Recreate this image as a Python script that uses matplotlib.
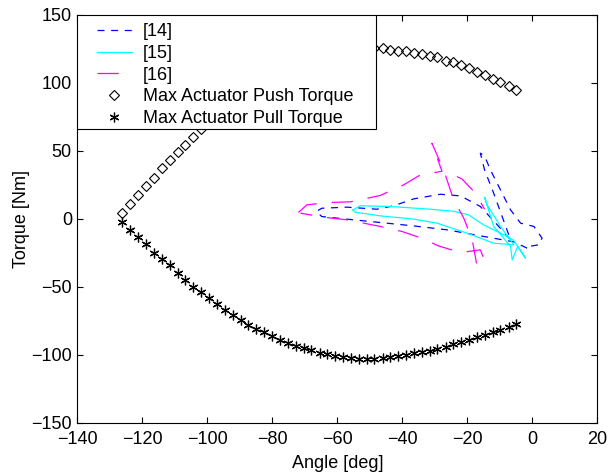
import numpy as np
from matplotlib import pyplot as plt
from matplotlib.patches import Rectangle

plt.rcParams['font.family'] = ['Liberation Sans', 'DejaVu Sans']

# actuator limit curves (same angle grid for push and pull)
angle_act = [-126.2, -123.8, -121.3, -118.9, -116.5, -114.1, -111.6, -109.2, -106.8, -104.4,
             -101.9, -99.5, -97.1, -94.7, -92.2, -89.8, -87.4, -84.9, -82.5, -80.1,
             -77.7, -75.3, -72.8, -70.4, -68.0, -65.5, -63.1, -60.7, -58.3, -55.8,
             -53.4, -51.0, -48.6, -46.1, -43.7, -41.3, -38.9, -36.4, -34.0, -31.6,
             -29.2, -26.7, -24.3, -21.9, -19.5, -17.0, -14.6, -12.2, -9.8, -7.3, -4.9]
push_torque = [4.6, 11.0, 17.9, 24.3, 30.1, 37.5, 43.2, 49.3, 54.4, 60.5,
               66.0, 71.5, 77.0, 82.5, 88.0, 93.0, 98.0, 103.0, 107.5, 111.5,
               115.0, 118.0, 120.5, 122.5, 124.0, 125.2, 126.0, 126.5, 126.8, 126.8,
               126.6, 126.3, 125.9, 125.5, 124.3, 123.8, 123.5, 122.3, 121.1, 120.1,
               118.9, 116.4, 115.2, 113.2, 111.3, 108.3, 105.9, 102.9, 100.5, 98.0, 94.9]
pull_torque = [-2.5, -8.1, -13.0, -18.4, -24.8, -29.2, -34.3, -39.5, -44.9, -49.8,
               -53.9, -58.3, -62.5, -66.9, -70.6, -74.3, -77.9, -81.1, -83.6, -86.3,
               -89.0, -91.4, -93.4, -95.1, -96.8, -98.5, -99.3, -100.7, -101.7, -102.4,
               -102.9, -102.9, -102.9, -102.7, -101.7, -101.0, -100.0, -99.0, -98.3, -97.5,
               -95.8, -94.1, -92.4, -90.9, -89.0, -87.0, -85.3, -83.6, -81.6, -79.4, -77.2]

# gait torque trajectories from the literature
ang14 = [-1.6, -5.7, -16.0, -26.2, -36.5, -46.8, -57.1, -64.8, -66.5, -64.8,
         -57.1, -47.8, -42.7, -36.5, -28.3, -22.1, -16.0, -10.8, -6.7, -11.9,
         -14.7, -16.0, -14.7, -12.9, -9.8, -6.7, -3.6, 0.5, 3.0, 2.0, -1.1, -1.6]
trq14 = [-21.6, -16.9, -12.5, -8.1, -5.2, -2.7, -0.2, 1.7, 5.4, 7.8,
         8.6, 7.1, 9.6, 14.7, 18.1, 16.9, 9.1, -4.4, -15.4, 18.9,
         36.0, 48.3, 46.3, 36.0, 21.3, 6.6, -3.2, -5.6, -14.2, -19.1, -20.3, -21.6]

ang15 = [-55.2, -53.0, -43.7, -31.4, -24.2, -19.6, -15.0, -9.8, -5.7, -2.1,
         -4.5, -6.2, -6.7, -11.9, -14.7, -13.9, -9.8, -5.7, -11.9, -20.1,
         -29.3, -36.5, -46.8, -54.5, -55.2]
trq15 = [6.6, 9.6, 9.1, 7.1, 5.6, 2.9, -4.4, -10.5, -15.9, -28.9,
         -20.3, -30.2, -20.3, -5.6, 15.9, 10.3, -5.6, -19.1, -17.9, -10.5,
         -3.2, -0.2, 2.2, 4.9, 6.6]

ang16 = [-72.0, -69.4, -63.2, -56.0, -46.8, -39.6, -34.5, -27.8, -30.9, -27.3,
         -24.2, -21.1, -18.5, -17.0, -15.0, -16.0, -22.1, -28.9, -33.5, -40.1,
         -46.8, -57.1, -64.2, -71.4, np.nan, -23.2, -21.6, -17.5, -14.7]
trq16 = [4.7, 10.3, 12.0, 12.5, 17.2, 25.0, 32.3, 35.0, 55.6, 36.0,
         14.0, 0.5, -15.4, -35.0, -28.9, -22.8, -24.8, -19.9, -14.7, -9.3,
         -5.6, -0.7, 1.2, 4.2, np.nan, 31.1, 29.2, 18.9, 7.1]

fig = plt.figure(figsize=(6.12, 4.74), dpi=100)
ax = fig.add_axes([0.1266, 0.1082, 0.8494, 0.8602])

ax.plot(ang14, trq14, color='#0000ff', lw=0.9, dashes=(5.6, 5.3), label='[14]')
ax.plot(ang15, trq15, color='#00ffff', lw=0.9, label='[15]')
ax.plot(ang16, trq16, color='#ff00ff', lw=0.9, dashes=(17, 12), label='[16]')
ax.plot(angle_act, push_torque, ls='none', marker='D', ms=4.8, mfc='none',
        mec='black', mew=0.8, label='Max Actuator Push Torque')
ax.plot(angle_act, pull_torque, ls='none', marker=(6, 2, 0), ms=7,
        mec='black', mew=0.9, label='Max Actuator Pull Torque')

ax.set_xlim(-140, 20)
ax.set_ylim(-150, 150)
ax.set_xticks(range(-140, 21, 20))
ax.set_yticks(range(-150, 151, 50))
ax.tick_params(direction='in', top=True, right=True, length=4, labelsize=13,
               width=0.8)
ax.tick_params(axis='x', pad=6)
ax.tick_params(axis='y', pad=4)
for s in ax.spines.values():
    s.set_linewidth(0.8)
ax.set_xlabel('Angle [deg]', fontsize=13, labelpad=5)
ax.set_ylabel('Torque [Nm]', fontsize=13, labelpad=1)

# legend box like the MATLAB one
box = Rectangle((0, 0.7204), 0.574, 0.2796, transform=ax.transAxes,
                facecolor='white', edgecolor='black', lw=0.8, zorder=4)
ax.add_patch(box)
leg = ax.legend(loc='upper left', bbox_to_anchor=(0.0369, 0.98), fontsize=13,
                numpoints=1, frameon=False, borderpad=0, borderaxespad=0,
                handlelength=1.94, handletextpad=0.6, labelspacing=0.26)
leg.set_zorder(5)

plt.savefig('out.png', dpi=100)
